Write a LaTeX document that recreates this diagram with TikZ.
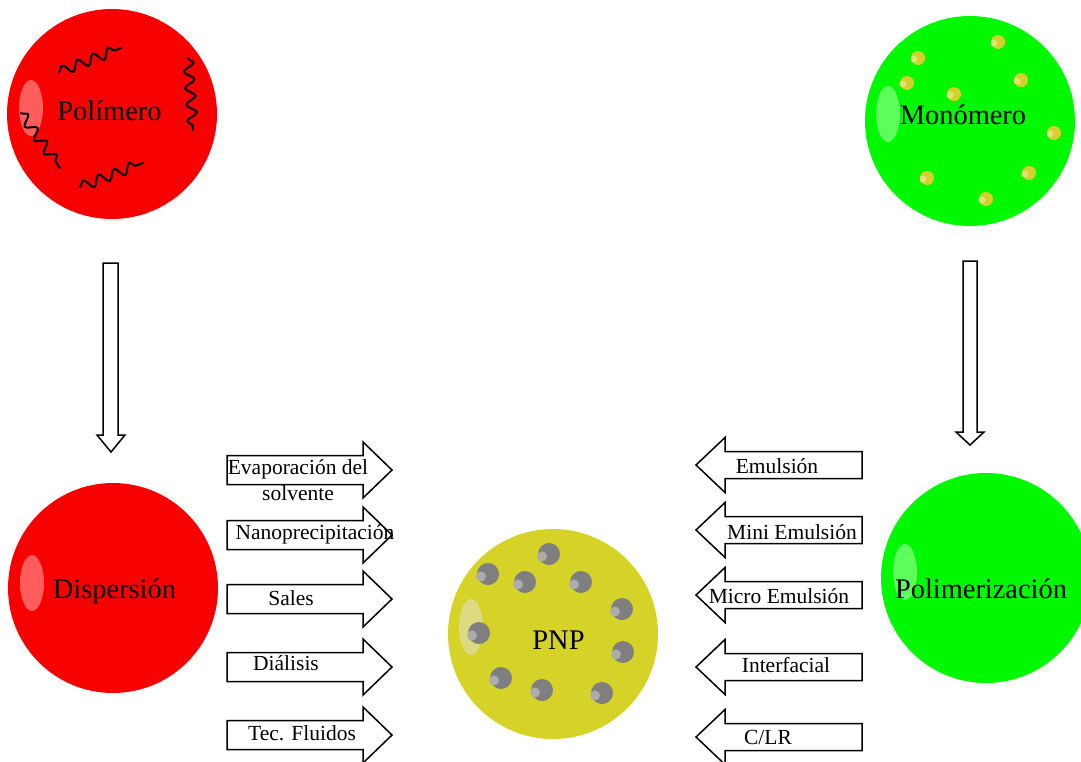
\documentclass[tikz,border=0pt]{standalone}
\usepackage{fontspec}
\setmainfont{Liberation Serif}
\usetikzlibrary{decorations.pathmorphing}
\definecolor{cred}{RGB}{246,0,0}
\definecolor{hlred}{RGB}{255,92,92}
\definecolor{cgreen}{RGB}{0,248,0}
\definecolor{hlgreen}{RGB}{92,255,92}
\definecolor{cyel}{RGB}{213,210,40}
\definecolor{hlyel}{RGB}{220,218,130}
\definecolor{dotyel}{RGB}{214,208,44}
\definecolor{dotyelhl}{RGB}{228,224,120}
\definecolor{cgray}{RGB}{127,127,127}
\definecolor{cgrayhl}{RGB}{172,172,172}
\newcommand\myArrR[1]{\draw[blk] (227,{#1-14.5}) -- (363,{#1-14.5}) -- (363,{#1-28}) -- (392,#1) -- (363,{#1+28}) -- (363,{#1+14.5}) -- (227,{#1+14.5}) -- cycle;}
\newcommand\myArrL[1]{\draw[blk] (862,{#1-13.5}) -- (725,{#1-13.5}) -- (725,{#1-27.5}) -- (696,#1) -- (725,{#1+27.5}) -- (725,{#1+13.5}) -- (862,{#1+13.5}) -- cycle;}
\newcommand\ydot[2]{\fill[dotyel] (#1,#2) circle[radius=7];\fill[dotyelhl] ({#1-4},{#2+1}) circle[radius=3.5];}
\newcommand\gdot[2]{\fill[cgray] (#1,#2) circle[radius=11];\fill[cgrayhl] ({#1-7},{#2+2.5}) circle[radius=5];}
\begin{document}
\begin{tikzpicture}[x=1pt,y=-1pt,
  ball/.style={circle,inner sep=0pt,minimum size=210pt},
  bigtxt/.style={inner sep=0pt,anchor=base,font=\fontsize{28.4}{34}\selectfont},
  smtxt/.style={inner sep=0pt,anchor=base,font=\fontsize{21.5}{26}\selectfont},
  blk/.style={draw=black,line width=1.5pt,fill=white,line join=miter},
  wave/.style={draw=black,line width=2pt,line cap=round,decorate,decoration={snake,segment length=16.5pt,amplitude=5pt}}]
\useasboundingbox (0,0) rectangle (1081,761);
\clip (0,0) rectangle (1081,761);
% Polimero
\node[ball,fill=cred] (poly) at (112,114) {};
\fill[hlred] (31,108) ellipse[x radius=12,y radius=28];
\path[wave] (59,72) -- (121,48);
\path[wave] (188,58) -- (193,130);
\path[wave] (21,113) -- (60,168);
\path[wave] (80,187) -- (143,163);
\node[bigtxt] (polyT) at (109.5,120) {Polímero};
% Monomero
\node[ball,fill=cgreen] (mono) at (970,121) {};
\fill[hlgreen] (888,114) ellipse[x radius=12,y radius=28];
\ydot{998}{42}\ydot{918}{58}\ydot{907}{83}\ydot{954}{94}\ydot{1021}{80}
\ydot{1054}{133}\ydot{927}{178}\ydot{1029}{173}\ydot{986}{199}
\node[bigtxt] (monoT) at (963,124) {Monómero};
% Dispersion
\node[ball,fill=cred] (disp) at (113,588) {};
\fill[hlred] (32,583) ellipse[x radius=12,y radius=28];
\node[bigtxt] (dispT) at (114.5,598) {Dispersión};
% Polimerizacion
\node[ball,fill=cgreen] (polim) at (986,578) {};
\fill[hlgreen] (905,572) ellipse[x radius=12,y radius=28];
\node[bigtxt] (polimT) at (981,598) {Polimerización};
% PNP
\node[ball,fill=cyel] (pnp) at (553,634) {};
\fill[hlyel] (471,627) ellipse[x radius=12,y radius=28];
\gdot{549}{554}\gdot{488}{574}\gdot{525}{582}\gdot{581}{582}\gdot{622}{609}
\gdot{479}{633}\gdot{623}{652}\gdot{501}{678}\gdot{542}{690}\gdot{602}{693}
\node[bigtxt] (pnpT) at (558.5,649) {PNP};
% down arrows
\draw[blk] (103,263) -- (118,263) -- (118,435) -- (125,435) -- (111,452) -- (97,435) -- (103,435) -- cycle;
\draw[blk] (963,261) -- (977,261) -- (977,432) -- (984,432) -- (970,445) -- (956,432) -- (963,432) -- cycle;
% left block arrows
\myArrR{470}\myArrR{535}\myArrR{599}\myArrR{667}\myArrR{735}
\node[smtxt] (t1a) at (298,474) {Evaporación del};
\node[smtxt] (t1b) at (298,500) {solvente};
\node[smtxt] (t2) at (315,539) {Nanoprecipitación};
\node[smtxt] (t3) at (291,605) {Sales};
\node[smtxt] (t4) at (286,670) {Diálisis};
\node[smtxt] (t5) at (302,740) {Tec. Fluidos};
% right block arrows
\myArrL{465}\myArrL{530}\myArrL{595}\myArrL{667}\myArrL{737}
\node[smtxt] (r1) at (777,473) {Emulsión};
\node[smtxt] (r2) at (792,539) {Mini Emulsión};
\node[smtxt] (r3) at (779,603) {Micro Emulsión};
\node[smtxt] (r4) at (786,672) {Interfacial};
\node[smtxt] (r5) at (768,744) {C/LR};
\end{tikzpicture}
\end{document}
